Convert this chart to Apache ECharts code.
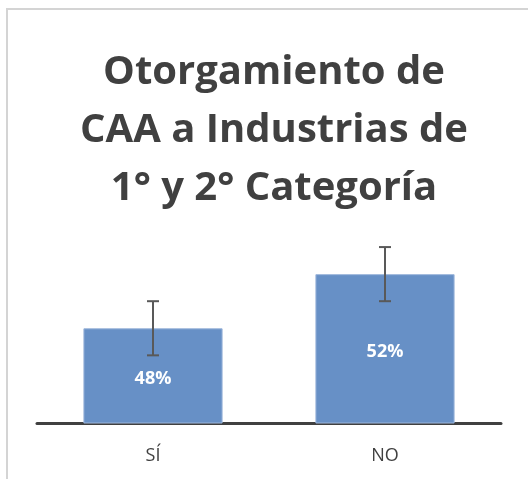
<!DOCTYPE html>
<html>
<head>
<meta charset="utf-8">
<script src="https://cdn.jsdelivr.net/npm/echarts@6/dist/echarts.min.js"></script>
<style>
  html, body { margin: 0; padding: 0; background: #fff; }
  #chart { width: 528px; height: 479px; }
</style>
</head>
<body>
<div id="chart"></div>
<script>
// datos del grafico
var categorias = ['SÍ', 'NO'];
var valores = [48, 52];
var etiquetas = ['48%', '52%'];
var errorMas = [2, 2];
var errorMenos = [2, 2];

var chart = echarts.init(document.getElementById('chart'));

// barras de error: [indice, bajo, alto]
var errores = [];
for (var i = 0; i < valores.length; i++) {
  errores.push([i, valores[i] - errorMenos[i], valores[i] + errorMas[i]]);
}

var option = {
  backgroundColor: '#ffffff',
  animation: false,
  title: {
    text: 'Otorgamiento de\nCAA a Industrias de\n1° y 2° Categoría',
    left: 269,
    top: 39,
    textAlign: 'center',
    textStyle: {
      fontFamily: 'Open Sans',
      fontSize: 40,
      lineHeight: 58,
      fontWeight: 'bold',
      color: '#404040'
    }
  },
  graphic: [{
    type: 'rect',
    shape: { x: 7, y: 9, width: 540, height: 490 },
    style: { fill: 'none', stroke: '#d4d4d4', lineWidth: 2 },
    silent: true
  }],
  grid: { left: 37, right: 27, top: 220, bottom: 56 },
  xAxis: {
    type: 'category',
    data: categorias,
    axisLine: { lineStyle: { color: '#404040', width: 3 } },
    axisTick: { show: false },
    axisLabel: {
      margin: 24,
      fontFamily: 'Open Sans',
      fontSize: 18,
      color: '#404040'
    }
  },
  yAxis: {
    type: 'value',
    min: 41,
    max: 56,
    show: false,
    splitLine: { show: false }
  },
  series: [{
    type: 'bar',
    data: valores,
    barWidth: '60%',
    itemStyle: { color: '#6790C6', borderColor: '#9DB6DB', borderWidth: 1 },
    label: {
      show: true,
      position: 'inside',
      offset: [0, 3],
      formatter: function (p) { return etiquetas[p.dataIndex]; },
      fontFamily: 'Open Sans',
      fontSize: 18,
      fontWeight: 'bold',
      color: '#ffffff'
    },
    z: 2
  }, {
    type: 'custom',
    data: errores,
    z: 5,
    renderItem: function (params, api) {
      var x = api.value(0);
      var lo = api.coord([x, api.value(1)]);
      var hi = api.coord([x, api.value(2)]);
      var w = 6;
      var st = { stroke: '#595959', lineWidth: 2 };
      return {
        type: 'group',
        children: [
          { type: 'line', shape: { x1: hi[0], y1: hi[1], x2: lo[0], y2: lo[1] }, style: st },
          { type: 'line', shape: { x1: hi[0] - w, y1: hi[1], x2: hi[0] + w, y2: hi[1] }, style: st },
          { type: 'line', shape: { x1: lo[0] - w, y1: lo[1], x2: lo[0] + w, y2: lo[1] }, style: st }
        ]
      };
    }
  }]
};

chart.setOption(option);
</script>
</body>
</html>
